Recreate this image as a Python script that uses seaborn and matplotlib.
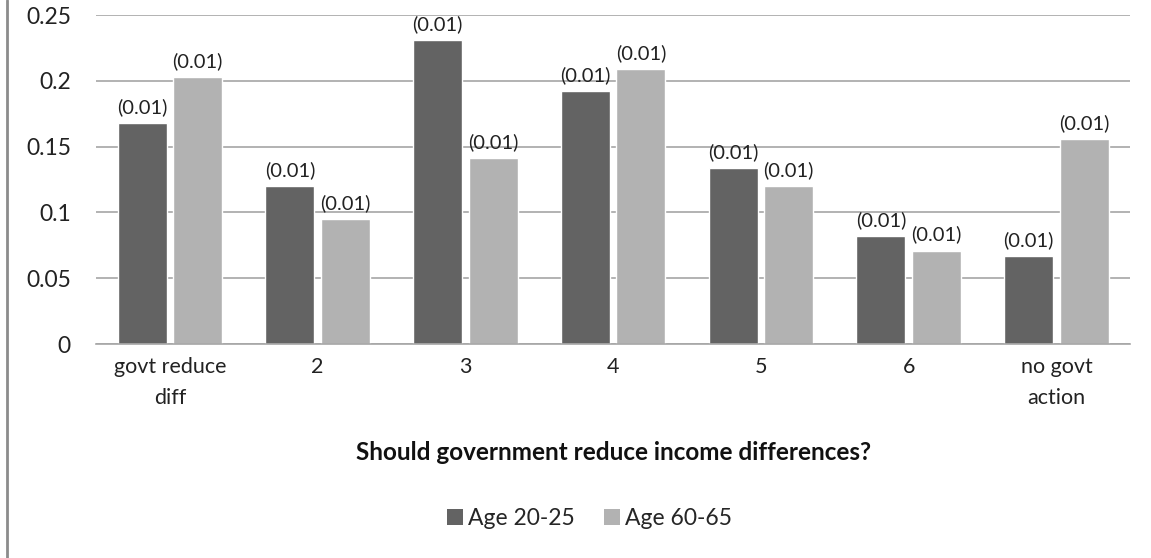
import matplotlib
matplotlib.use("Agg")
import matplotlib.pyplot as plt
import seaborn as sns
import pandas as pd
from matplotlib.lines import Line2D
from matplotlib.patches import Patch

categories = ["govt reduce\ndiff", "2", "3", "4", "5", "6", "no govt\naction"]
age_20_25 = [0.168, 0.120, 0.231, 0.192, 0.134, 0.082, 0.067]
age_60_65 = [0.203, 0.095, 0.141, 0.209, 0.120, 0.071, 0.156]
series_names = ["Age 20-25", "Age 60-65"]
bar_labels = ["(0.01)"] * 7
yticks = [0, 0.05, 0.1, 0.15, 0.2, 0.25]
ytick_labels = ["0", "0.05", "0.1", "0.15", "0.2", "0.25"]
colors = ["#636363", "#b2b2b2"]

df = pd.DataFrame({
    "category": categories * 2,
    "value": age_20_25 + age_60_65,
    "series": [series_names[0]] * 7 + [series_names[1]] * 7,
})

sns.set_theme(style="white")
plt.rcParams["font.family"] = ["Lato", "DejaVu Sans"]

fig = plt.figure(figsize=(11.51, 5.58), dpi=100)
ax = fig.add_axes([0.0834, 0.3835, 0.8986, 0.5895])

sns.barplot(data=df, x="category", y="value", hue="series", order=categories,
            hue_order=series_names, palette=colors, width=0.75, gap=0.115,
            saturation=1, ax=ax, legend=False, errorbar=None)

for cont in ax.containers:
    ax.bar_label(cont, labels=bar_labels, padding=5, fontsize=14.5, color="#222222")

ax.set_ylim(0, 0.25)
ax.set_xlim(-0.5, 6.5)
ax.set_yticks(yticks)
ax.set_yticklabels(ytick_labels, fontsize=16.5, color="#222222")
ax.tick_params(axis="x", labelsize=15.5, colors="#222222", length=0, pad=9)
ax.tick_params(axis="y", length=0, pad=18)
for lab in ax.get_xticklabels():
    lab.set_color("#222222")
    lab.set_linespacing(1.7)
ax.yaxis.grid(True, color="#a6a6a6", linewidth=1.2)
ax.set_axisbelow(True)
for s in ["top", "right", "left"]:
    ax.spines[s].set_visible(False)
ax.spines["bottom"].set_color("#a6a6a6")
ax.spines["bottom"].set_linewidth(1.2)

ax.set_xlabel("Should government reduce income differences?", fontsize=17.5,
              fontweight="bold", color="#111111", labelpad=24)
ax.set_ylabel("")

handles = [Patch(facecolor=c, edgecolor="none") for c in colors]
fig.legend(handles, series_names, loc="center", bbox_to_anchor=(0.512, 0.07),
           ncol=2, frameon=False, fontsize=16.5, handlelength=0.7, handleheight=0.7,
           handletextpad=0.2, columnspacing=1.3)

fig.add_artist(Line2D([0.0065, 0.0065], [0, 1], transform=fig.transFigure,
                      color="#8c8c8c", linewidth=2))

fig.savefig("out.png", dpi=100, facecolor="white")
